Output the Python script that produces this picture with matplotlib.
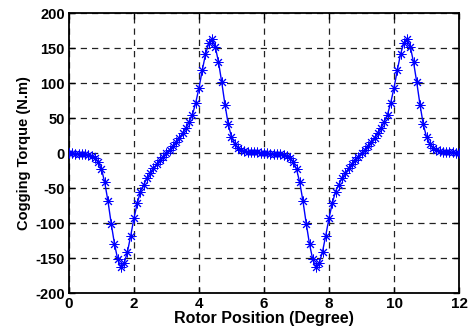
import numpy as np
import matplotlib
matplotlib.use("Agg")
import matplotlib.pyplot as plt

# Rotor position (degree), step 0.1
position = [round(0.1 * i, 1) for i in range(121)]

# Cogging torque (N.m)
torque = [
    0, -0.5, -1, -1, -1.5, -2, -3, -4, -7, -13,
    -23, -42, -69, -101, -130, -152, -163, -157, -141, -118,
    -93, -72, -55, -45, -36, -29, -22, -16, -10, -5,
    0, 5, 10, 16, 22, 29, 36, 45, 55, 72,
    93, 118, 141, 157, 163, 152, 130, 101, 69, 41,
    23, 13, 7, 4, 3, 2, 1.5, 1, 1, 0.5,
    0, -0.5, -1, -1, -1.5, -2, -3, -4, -7, -13,
    -23, -42, -69, -101, -130, -152, -163, -157, -141, -118,
    -93, -72, -55, -45, -36, -29, -22, -16, -10, -5,
    0, 5, 10, 16, 22, 29, 36, 45, 55, 72,
    93, 118, 141, 157, 163, 152, 130, 101, 69, 41,
    23, 13, 7, 4, 3, 2, 1.5, 1, 1, 0.5,
    0,
]

xticks = [0, 2, 4, 6, 8, 10, 12]
yticks = [-200, -150, -100, -50, 0, 50, 100, 150, 200]

plt.rcParams['font.family'] = ['Liberation Sans', 'DejaVu Sans']
plt.rcParams['font.weight'] = 'bold'

fig = plt.figure(figsize=(4.68, 3.30), dpi=100)
ax = fig.add_axes([0.1474, 0.1121, 0.8334, 0.8485])

ax.plot(position, torque, color='#0000ff', linewidth=1.0, marker=(8, 2, 0),
        markersize=7, markeredgewidth=0.7, zorder=3)

ax.set_xlim(0, 12)
ax.set_ylim(-200, 200)
ax.set_xticks(xticks)
ax.set_yticks(yticks)
ax.set_xticklabels([str(t) for t in xticks], fontsize=11, fontweight='bold')
ax.set_yticklabels([str(t) for t in yticks], fontsize=10.5, fontweight='bold')

ax.grid(True, color='#222222', linestyle=(0, (5, 4)), linewidth=0.9)
ax.tick_params(direction='in', top=True, right=True, length=4, width=1,
               pad=3)
for s in ax.spines.values():
    s.set_linewidth(1.3)
    s.set_color('black')

ax.set_xlabel('Rotor Position (Degree)', fontsize=11.5, fontweight='bold',
              labelpad=0)
ax.set_ylabel('Cogging Torque (N.m)', fontsize=10.5, fontweight='bold',
              labelpad=3)

fig.savefig('out.png', dpi=100)
